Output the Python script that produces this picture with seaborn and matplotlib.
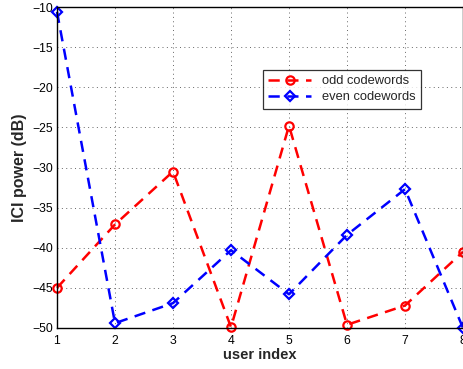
import matplotlib
matplotlib.use("Agg")
import matplotlib.pyplot as plt
import seaborn as sns
import pandas as pd

users = [1, 2, 3, 4, 5, 6, 7, 8]
odd_codewords = [-45.0, -37.1, -30.5, -49.9, -24.8, -49.6, -47.2, -40.5]
even_codewords = [-10.6, -49.4, -46.9, -40.3, -45.8, -38.4, -32.7, -50.0]
yticks = [-50, -45, -40, -35, -30, -25, -20, -15, -10]

sns.set_style("white")
plt.rcParams['font.family'] = ['Liberation Sans', 'DejaVu Sans']
plt.rcParams['axes.unicode_minus'] = True

fig = plt.figure(figsize=(4.64, 3.69), dpi=100)
ax = fig.add_axes([57/464, 1-328/369, 406/464, 321/369])

df = pd.DataFrame({"user": users, "odd": odd_codewords, "even": even_codewords})

sns.lineplot(data=df, x="user", y="odd", ax=ax, color="#ff0000", linestyle="--",
             linewidth=1.8, marker="o", markersize=6, markerfacecolor="none",
             markeredgecolor="#ff0000", markeredgewidth=1.6, label="odd codewords",
             dashes=False)
sns.lineplot(data=df, x="user", y="even", ax=ax, color="#0000ff", linestyle="--",
             linewidth=1.8, marker="D", markersize=5, markerfacecolor="none",
             markeredgecolor="#0000ff", markeredgewidth=1.6, label="even codewords",
             dashes=False)
for ln in ax.get_lines():
    ln.set_dashes([4.5, 3])
    ln.set_clip_on(False)

ax.set_xlim(1, 8)
ax.set_ylim(-50, -10)
ax.set_xticks(users)
ax.set_yticks(yticks)
ax.tick_params(direction="in", length=3, labelsize=8.8, colors="black", width=0.8)
ax.tick_params(axis="x", pad=5)
ax.tick_params(axis="y", pad=3)
ax.grid(True, linestyle=(0, (1, 3.5)), color="#666666", linewidth=0.7)
for s in ax.spines.values():
    s.set_color("black")
    s.set_linewidth(1.0)

ax.set_xlabel("user index", fontsize=10.5, fontweight="bold", labelpad=1)
ax.set_ylabel("ICI power (dB)", fontsize=11.5, fontweight="bold", labelpad=4)

leg = ax.legend(loc="upper left", bbox_to_anchor=((263-57)/406, (328-70)/321),
                fontsize=9.3, frameon=True, fancybox=False, borderpad=0.42,
                handlelength=3.3, labelspacing=0.3, handletextpad=0.85, borderaxespad=0)
leg.get_frame().set_edgecolor("black")
leg.get_frame().set_linewidth(0.9)

fig.savefig("out.png", dpi=100)
